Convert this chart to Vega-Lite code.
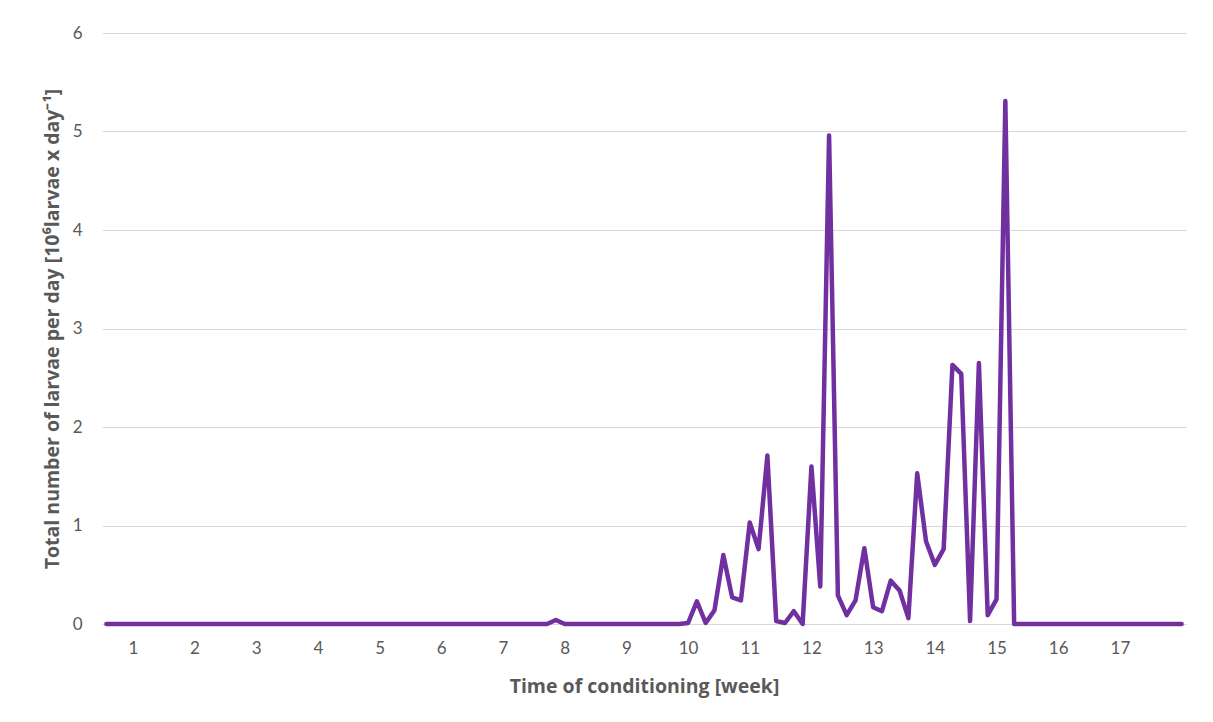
{
  "$schema": "https://vega.github.io/schema/vega-lite/v6.json",
  "autosize": {"type": "none"},
  "width": 1084,
  "height": 591,
  "padding": {"left": 102, "top": 33, "right": 27, "bottom": 98},
  "background": "#ffffff",
  "config": {
    "view": {"stroke": null},
    "font": "Lato"
  },
  "data": {
    "values": [
      {"day": 1, "larvae": 0}, {"day": 2, "larvae": 0}, {"day": 3, "larvae": 0}, {"day": 4, "larvae": 0},
      {"day": 5, "larvae": 0}, {"day": 6, "larvae": 0}, {"day": 7, "larvae": 0}, {"day": 8, "larvae": 0},
      {"day": 9, "larvae": 0}, {"day": 10, "larvae": 0}, {"day": 11, "larvae": 0}, {"day": 12, "larvae": 0},
      {"day": 13, "larvae": 0}, {"day": 14, "larvae": 0}, {"day": 15, "larvae": 0}, {"day": 16, "larvae": 0},
      {"day": 17, "larvae": 0}, {"day": 18, "larvae": 0}, {"day": 19, "larvae": 0}, {"day": 20, "larvae": 0},
      {"day": 21, "larvae": 0}, {"day": 22, "larvae": 0}, {"day": 23, "larvae": 0}, {"day": 24, "larvae": 0},
      {"day": 25, "larvae": 0}, {"day": 26, "larvae": 0}, {"day": 27, "larvae": 0}, {"day": 28, "larvae": 0},
      {"day": 29, "larvae": 0}, {"day": 30, "larvae": 0}, {"day": 31, "larvae": 0}, {"day": 32, "larvae": 0},
      {"day": 33, "larvae": 0}, {"day": 34, "larvae": 0}, {"day": 35, "larvae": 0}, {"day": 36, "larvae": 0},
      {"day": 37, "larvae": 0}, {"day": 38, "larvae": 0}, {"day": 39, "larvae": 0}, {"day": 40, "larvae": 0},
      {"day": 41, "larvae": 0}, {"day": 42, "larvae": 0}, {"day": 43, "larvae": 0}, {"day": 44, "larvae": 0},
      {"day": 45, "larvae": 0}, {"day": 46, "larvae": 0}, {"day": 47, "larvae": 0}, {"day": 48, "larvae": 0},
      {"day": 49, "larvae": 0}, {"day": 50, "larvae": 0}, {"day": 51, "larvae": 0}, {"day": 52, "larvae": 0.04},
      {"day": 53, "larvae": 0}, {"day": 54, "larvae": 0}, {"day": 55, "larvae": 0}, {"day": 56, "larvae": 0},
      {"day": 57, "larvae": 0}, {"day": 58, "larvae": 0}, {"day": 59, "larvae": 0}, {"day": 60, "larvae": 0},
      {"day": 61, "larvae": 0}, {"day": 62, "larvae": 0}, {"day": 63, "larvae": 0}, {"day": 64, "larvae": 0},
      {"day": 65, "larvae": 0}, {"day": 66, "larvae": 0}, {"day": 67, "larvae": 0.01}, {"day": 68, "larvae": 0.23},
      {"day": 69, "larvae": 0.01}, {"day": 70, "larvae": 0.14}, {"day": 71, "larvae": 0.70}, {"day": 72, "larvae": 0.27},
      {"day": 73, "larvae": 0.24}, {"day": 74, "larvae": 1.03}, {"day": 75, "larvae": 0.76}, {"day": 76, "larvae": 1.71},
      {"day": 77, "larvae": 0.03}, {"day": 78, "larvae": 0.01}, {"day": 79, "larvae": 0.13}, {"day": 80, "larvae": 0},
      {"day": 81, "larvae": 1.60}, {"day": 82, "larvae": 0.38}, {"day": 83, "larvae": 4.96}, {"day": 84, "larvae": 0.29},
      {"day": 85, "larvae": 0.09}, {"day": 86, "larvae": 0.24}, {"day": 87, "larvae": 0.77}, {"day": 88, "larvae": 0.17},
      {"day": 89, "larvae": 0.13}, {"day": 90, "larvae": 0.44}, {"day": 91, "larvae": 0.34}, {"day": 92, "larvae": 0.06},
      {"day": 93, "larvae": 1.53}, {"day": 94, "larvae": 0.84}, {"day": 95, "larvae": 0.60}, {"day": 96, "larvae": 0.76},
      {"day": 97, "larvae": 2.63}, {"day": 98, "larvae": 2.54}, {"day": 99, "larvae": 0.03}, {"day": 100, "larvae": 2.65},
      {"day": 101, "larvae": 0.09}, {"day": 102, "larvae": 0.25}, {"day": 103, "larvae": 5.31}, {"day": 104, "larvae": 0},
      {"day": 105, "larvae": 0}, {"day": 106, "larvae": 0}, {"day": 107, "larvae": 0}, {"day": 108, "larvae": 0},
      {"day": 109, "larvae": 0}, {"day": 110, "larvae": 0}, {"day": 111, "larvae": 0}, {"day": 112, "larvae": 0},
      {"day": 113, "larvae": 0}, {"day": 114, "larvae": 0}, {"day": 115, "larvae": 0}, {"day": 116, "larvae": 0},
      {"day": 117, "larvae": 0}, {"day": 118, "larvae": 0}, {"day": 119, "larvae": 0}, {"day": 120, "larvae": 0},
      {"day": 121, "larvae": 0}, {"day": 122, "larvae": 0}, {"day": 123, "larvae": 0}
    ]
  },
  "mark": {"type": "line", "color": "#7030a0", "strokeWidth": 4.5, "strokeJoin": "round", "strokeCap": "round", "clip": false},
  "encoding": {
    "x": {
      "field": "day",
      "type": "quantitative",
      "scale": {"domain": [0.5, 123.5], "nice": false, "zero": false},
      "axis": {
        "title": "Time of conditioning [week]",
        "values": [4, 11, 18, 25, 32, 39, 46, 53, 60, 67, 74, 81, 88, 95, 102, 109, 116],
        "labelExpr": "(datum.value + 3) / 7",
        "grid": false,
        "ticks": false,
        "domain": true,
        "domainColor": "#d9d9d9",
        "domainWidth": 1,
        "labelFont": "Lato",
        "labelFontSize": 17,
        "labelColor": "#595959",
        "labelPadding": 16,
        "labelFlush": false,
        "titleFont": "Open Sans",
        "titleFontSize": 19.5,
        "titleFontWeight": "bold",
        "titleColor": "#595959",
        "titlePadding": 21
      }
    },
    "y": {
      "field": "larvae",
      "type": "quantitative",
      "scale": {"domain": [0, 6], "nice": false},
      "axis": {
        "title": "Total number of larvae per day [10⁶larvae x day⁻¹]",
        "values": [0, 1, 2, 3, 4, 5, 6],
        "grid": true,
        "gridColor": "#d9d9d9",
        "gridWidth": 1,
        "ticks": false,
        "domain": false,
        "labelFont": "Lato",
        "labelFontSize": 17,
        "labelColor": "#595959",
        "labelPadding": 20,
        "titleFont": "Open Sans",
        "titleFontSize": 19.5,
        "titleFontWeight": "bold",
        "titleColor": "#595959",
        "titleX": -50,
        "titleBaseline": "middle"
      }
    }
  }
}
